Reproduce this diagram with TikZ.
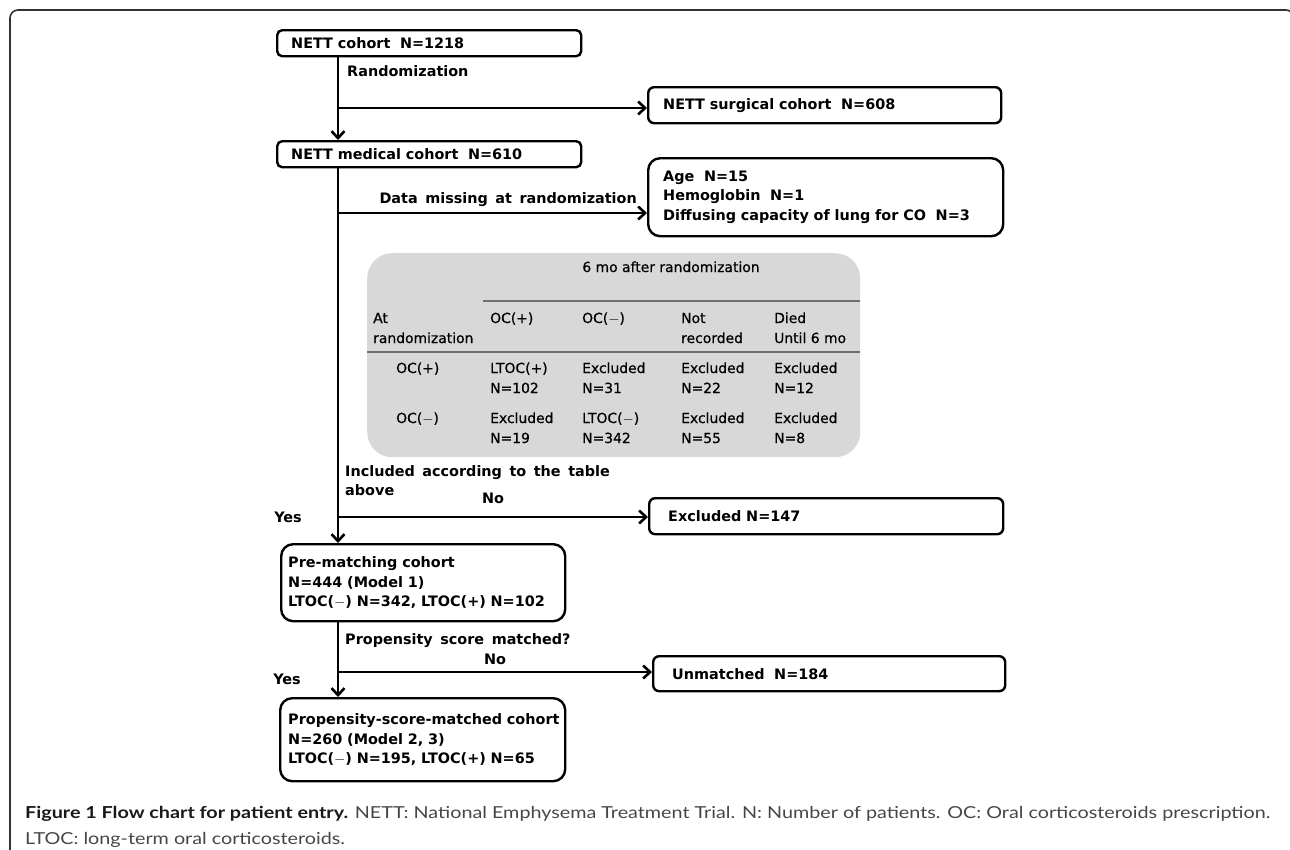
\documentclass[tikz,border=0pt]{standalone}
\usepackage{fontspec}
\usepackage{graphicx}
\usetikzlibrary{arrows.meta}
\newfontfamily\dvs[WordSpace=1.5]{DejaVu Sans}
\newfontfamily\dvst[FakeBold=0.6]{DejaVu Sans}
\newfontfamily\capfont{Lato}
\definecolor{tablegray}{RGB}{216,216,216}
\definecolor{rulegray}{RGB}{110,110,110}
\definecolor{framegray}{RGB}{51,51,51}
\definecolor{captext}{RGB}{70,70,70}
\newcommand{\bxfont}{\dvs\bfseries\fontsize{14.4}{19.5}\selectfont\hyphenpenalty=10000\exhyphenpenalty=10000}
\newcommand{\tbfont}{\dvst\fontsize{13.9}{19.5}\selectfont}
\tikzset{
  box/.style={draw=black, line width=2.4pt, font=\bxfont, align=left, inner ysep=0pt, anchor=north west},
  tbl/.style={font=\tbfont, anchor=base west, inner sep=0pt},
  lbl/.style={font=\bxfont, anchor=base west, inner sep=0pt},
  arr/.style={line width=2.6pt, -{Straight Barb[length=7pt,width=13pt]}},
  rule/.style={draw=rulegray, line width=1.6pt},
}
\begin{document}
\begin{tikzpicture}[x=1pt,y=-1pt]
\useasboundingbox (0,0) rectangle (1290,849);
\clip (0,0) rectangle (1290,849);
% frame
\draw[framegray, line width=1.6pt, rounded corners=8pt] (10,860) -- (10,10) -- (1294,10) -- (1294,40);
% boxes
\node[box, rounded corners=5pt, minimum height=26pt, inner xsep=14pt, text width=276pt] (b1) at (276,29) {NETT cohort\ \ N=1218};
\node[box, rounded corners=6pt, minimum height=36pt, inner xsep=15pt, text width=323pt] (surg) at (647,86) {NETT surgical cohort\ \ N=608};
\node[box, rounded corners=5pt, minimum height=26pt, inner xsep=14pt, text width=276pt] (b2) at (276,140) {NETT medical cohort\ \ N=610};
\node[box, rounded corners=12pt, minimum height=78pt, inner xsep=15pt, text width=325pt] (miss) at (647,157) {Age\ \ N=15\\Hemoglobin\ \ N=1\\Diffusing capacity of lung for CO\ \ N=3};
\node[box, rounded corners=6pt, minimum height=36pt, inner xsep=19pt, text width=316pt] (excl) at (648,497) {Excluded N=147};
\node[box, rounded corners=12pt, minimum height=77pt, inner xsep=7pt, text width=270pt] (pre) at (280,543) {Pre-matching cohort\\N=444 (Model 1)\\LTOC($-$) N=342, LTOC(+) N=102};
\node[box, rounded corners=6pt, minimum height=35pt, inner xsep=19pt, text width=314pt] (unm) at (652,655) {Unmatched\ \ N=184};
\node[box, rounded corners=12pt, minimum height=83pt, inner xsep=8pt, text width=269pt] (psm) at (279,697) {\mbox{Propensity-score-matched cohort}\\N=260 (Model 2, 3)\\LTOC($-$) N=195, LTOC(+) N=65};
% table
\node[fill=tablegray, rounded corners=25pt, minimum width=493pt, minimum height=204pt, anchor=north west, inner sep=0pt] (tab) at (367,253) {};
\draw[rule] (483,301) -- (tab.east |- 0,301);
\draw[rule] (tab.west |- 0,352) -- (tab.east |- 0,352);
\node[font=\tbfont, anchor=base, inner sep=0pt] (th) at (671,272) {6 mo after randomization};
\node[tbl] (h1a) at (373,323) {At};
\node[tbl] (h1b) at (373,343) {randomization};
\node[tbl] (h2) at (490,323) {OC(+)};
\node[tbl] (h3) at (582,323) {OC($-$)};
\node[tbl] (h4a) at (681,323) {Not};
\node[tbl] (h4b) at (681,343) {recorded};
\node[tbl] (h5a) at (774,323) {Died};
\node[tbl] (h5b) at (774,343) {Until 6 mo};
\node[tbl] (r1) at (396,373) {OC(+)};
\node[tbl] (r1a) at (490,373) {LTOC(+)};
\node[tbl] (r1b) at (490,393) {N=102};
\node[tbl] (r1c) at (582,373) {Excluded};
\node[tbl] (r1d) at (582,393) {N=31};
\node[tbl] (r1e) at (681,373) {Excluded};
\node[tbl] (r1f) at (681,393) {N=22};
\node[tbl] (r1g) at (774,373) {Excluded};
\node[tbl] (r1h) at (774,393) {N=12};
\node[tbl] (r2) at (396,423) {OC($-$)};
\node[tbl] (r2a) at (490,423) {Excluded};
\node[tbl] (r2b) at (490,443) {N=19};
\node[tbl] (r2c) at (582,423) {LTOC($-$)};
\node[tbl] (r2d) at (582,443) {N=342};
\node[tbl] (r2e) at (681,423) {Excluded};
\node[tbl] (r2f) at (681,443) {N=55};
\node[tbl] (r2g) at (774,423) {Excluded};
\node[tbl] (r2h) at (774,443) {N=8};
% labels
\node[lbl] (lrand) at (347,76) {Randomization};
\node[lbl, anchor=base east] (lmiss) at (637,203) {Data missing at randomization};
\node[lbl] (linc1) at (345,476) {Included according to the table};
\node[lbl] (linc2) at (345,495) {above};
\node[lbl, anchor=base] (lno1) at (493,503) {No};
\node[lbl, anchor=base] (lyes1) at (288,522) {Yes};
\node[lbl] (lprop) at (345,644) {Propensity score matched?};
\node[lbl, anchor=base] (lno2) at (495,664) {No};
\node[lbl, anchor=base] (lyes2) at (287,684) {Yes};
% connectors
\coordinate (m) at (338,0);
\coordinate (j1) at (338,108);
\coordinate (j2) at (338,213);
\coordinate (j3) at (338,517);
\coordinate (j4) at (338,672);
\draw[arr] (b1.south -| m) -- (b2.north -| m);
\draw[arr] (j1) -- (j1 -| surg.west);
\draw[arr] (b2.south -| m) -- (pre.north -| m);
\draw[arr] (j2) -- (j2 -| miss.west);
\draw[arr] (j3) -- (j3 -| excl.west);
\draw[arr] (pre.south -| m) -- (psm.north -| m);
\draw[arr] (j4) -- (j4 -| unm.west);
% caption
\node[anchor=base west, inner sep=0pt, text=captext] (cap) at (25,818) {\resizebox{1245pt}{\height}{\capfont\fontsize{16.5}{26}\selectfont\begin{tabular}[t]{@{}l@{}}\textcolor{black!90}{\textbf{Figure 1 Flow chart for patient entry.}} NETT: National Emphysema Treatment Trial. N: Number of patients. OC: Oral corticosteroids prescription.\\LTOC: long-term oral corticosteroids.\end{tabular}}};
\end{tikzpicture}
\end{document}
